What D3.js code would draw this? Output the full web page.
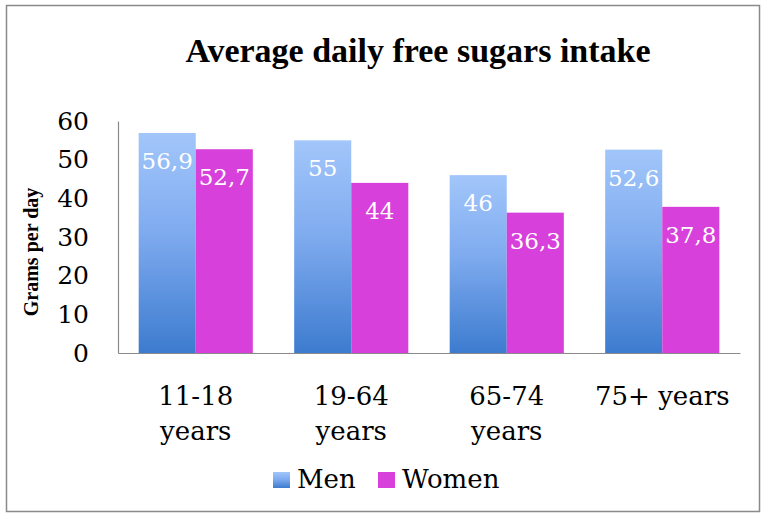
<!DOCTYPE html>
<html><head><meta charset="utf-8">
<script src="https://cdn.jsdelivr.net/npm/d3@7"></script>
<style>body{margin:0;background:#fff}svg{display:block}text{font-family:"DejaVu Serif","Liberation Serif",serif}</style>
</head><body><svg id="c" width="768" height="519"></svg>
<script>
const categories = [["11-18","years"],["19-64","years"],["65-74","years"],["75+ years"]];
const seriesNames = ["Men","Women"];
const men = [56.9, 55, 46, 52.6];
const women = [52.7, 44, 36.3, 37.8];
const menLabels = ["56,9","55","46","52,6"];
const womenLabels = ["52,7","44","36,3","37,8"];
const yTicks = [0,10,20,30,40,50,60];

const svg = d3.select("#c");
const defs = svg.append("defs");
const g = defs.append("linearGradient").attr("id","menGrad").attr("x1",0).attr("y1",0).attr("x2",0).attr("y2",1);
g.append("stop").attr("offset","0%").attr("stop-color","#a2c6fa");
g.append("stop").attr("offset","45%").attr("stop-color","#7fabef");
g.append("stop").attr("offset","100%").attr("stop-color","#3d7bcf");
const colors = {Men:"url(#menGrad)", Women:"#d740da"};

svg.append("rect").attr("x",6.5).attr("y",5.5).attr("width",753).attr("height",506)
  .attr("fill","#fff").attr("stroke","#8a8a8a").attr("stroke-width",1.5);

const pL=118, pR=740, pT=121, pB=353;
const x0 = d3.scaleBand().domain(d3.range(categories.length)).range([pL,pR]).paddingInner(0.266).paddingOuter(0.133);
const x1 = d3.scaleBand().domain(seriesNames).range([0,x0.bandwidth()]);
const y = d3.scaleLinear().domain([0,60]).range([pB,pT]);

const data = categories.map((c,i)=>({i, vals:[{s:"Men",v:men[i],l:menLabels[i]},{s:"Women",v:women[i],l:womenLabels[i]}]}));
const grp = svg.selectAll(".grp").data(data).enter().append("g").attr("transform",d=>`translate(${x0(d.i)},0)`);
grp.selectAll("rect").data(d=>d.vals).enter().append("rect")
  .attr("x",d=>x1(d.s)).attr("width",x1.bandwidth())
  .attr("y",d=>y(d.v)).attr("height",d=>y(0)-y(d.v)).attr("fill",d=>colors[d.s]);
grp.selectAll("text").data(d=>d.vals).enter().append("text")
  .attr("x",d=>x1(d.s)+x1.bandwidth()/2).attr("y",d=>y(d.v)+36)
  .attr("text-anchor","middle").attr("fill","#fff").attr("font-size",23).text(d=>d.l);

// axes
const yAxis = svg.append("g").attr("transform",`translate(${pL},0)`).call(d3.axisLeft(y).tickValues(yTicks).tickSize(0).tickPadding(29));
yAxis.select(".domain").attr("stroke","#8a8a8a").attr("stroke-width",1.2);
yAxis.selectAll("text").attr("font-size",25).attr("fill","#000").style("font-family","DejaVu Serif");

const xAxis = svg.append("g").attr("transform",`translate(0,${pB})`).call(d3.axisBottom(x0).tickSize(0).tickFormat(""));
xAxis.select(".domain").attr("stroke","#8a8a8a").attr("stroke-width",1.2);
xAxis.selectAll(".tick").each(function(d){
  const t = d3.select(this).append("text").attr("fill","#000").attr("font-size",26).attr("text-anchor","middle").style("font-family","DejaVu Serif");
  categories[d].forEach((line,k)=>t.append("tspan").attr("x",0).attr("y",52+k*35).text(line));
});

svg.append("text").attr("x",418).attr("y",62).attr("text-anchor","middle").attr("font-weight","bold").attr("font-size",34).style("font-family","Liberation Serif").text("Average daily free sugars intake");
svg.append("text").attr("transform","translate(38,252) rotate(-90)").attr("text-anchor","middle").attr("font-weight","bold").attr("font-size",20).style("font-family","Liberation Serif").text("Grams per day");

// legend
const legX = [273, 378];
const leg = svg.selectAll(".leg").data(seriesNames).enter().append("g").attr("transform",(d,i)=>`translate(${legX[i]},472)`);
leg.append("rect").attr("width",17).attr("height",16).attr("fill",d=>colors[d]);
leg.append("text").attr("x",24).attr("y",16).attr("font-size",26).text(d=>d);
</script></body></html>
